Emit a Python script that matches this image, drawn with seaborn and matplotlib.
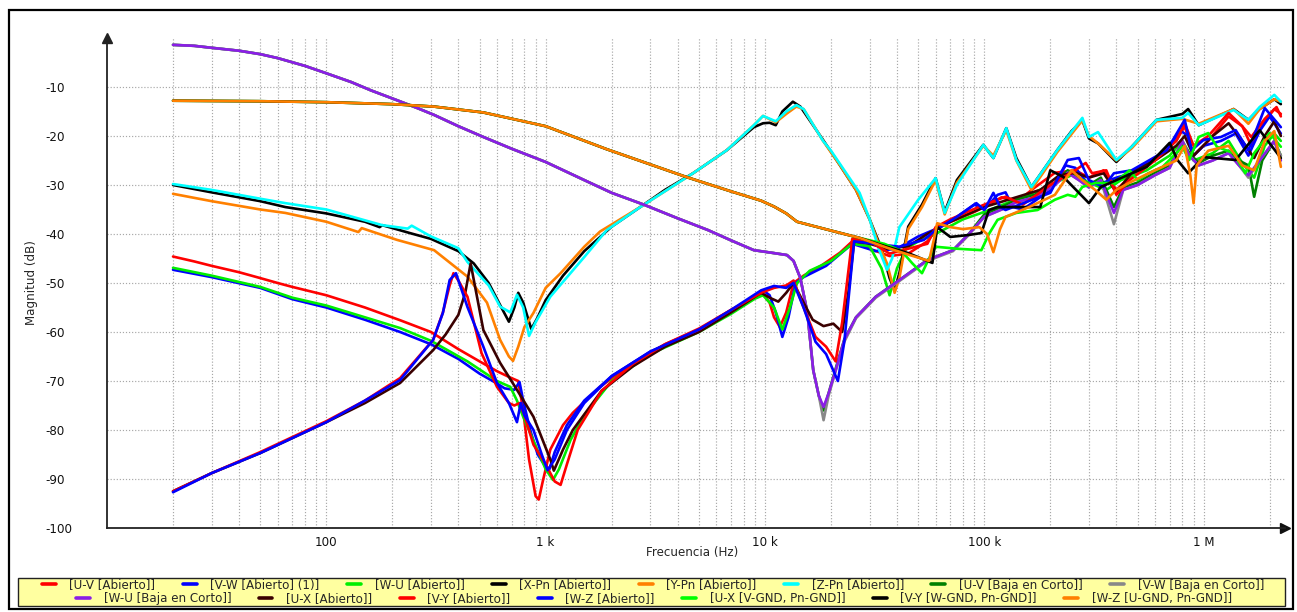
import matplotlib
matplotlib.use("Agg")
import matplotlib.pyplot as plt
from matplotlib.lines import Line2D
from matplotlib.patches import Rectangle
from matplotlib.ticker import FixedLocator, LogLocator, NullFormatter
import seaborn as sns
import pandas as pd

# ---------------------------------------------------------------- data (Hz, dB)
uv_abierto = [(20, -44.6), (25, -45.6), (30, -46.5), (40, -47.8), (50, -49), (60, -50), (70, -50.8),
              (100, -52.5), (150, -55), (217, -57.6), (300, -60), (400, -63.5), (500, -66), (600, -68),
              (690, -69.3), (750, -70), (790, -76), (840, -86), (900, -93.5), (930, -94.2), (970, -90.5),
              (1050, -84), (1200, -79), (1330, -76.5), (1770, -71.2), (2500, -66.3), (3500, -62.5),
              (5000, -59.3), (7000, -55.5), (9000, -52.8), (9800, -52.3), (10500, -54), (11000, -57),
              (11700, -59), (12500, -56), (13500, -50), (15000, -48.5), (18000, -46.5), (22000, -43.8),
              (25000, -41.5), (30000, -43), (37000, -44.5), (45000, -44), (55000, -41.5), (62000, -38.5),
              (75000, -37), (90000, -35.5), (100000, -34.5), (120000, -32.5), (140000, -33.5),
              (170000, -30.5), (210000, -27.5), (260000, -27), (300000, -28.5), (350000, -27),
              (400000, -31), (470000, -28), (600000, -24.5), (750000, -21), (820000, -18), (900000, -24),
              (1050000, -21), (1300000, -16), (1500000, -18), (1650000, -22), (1900000, -17),
              (2100000, -14.5), (2250000, -15.5)]

vw_abierto_1 = [(20, -47.3), (30, -48.8), (50, -51), (70, -53.3), (100, -55), (150, -57.5), (217, -60),
                (300, -62.5), (400, -65.5), (500, -68.5), (600, -70.5), (650, -71.5), (720, -71.8),
                (760, -70.2), (790, -74), (850, -80), (920, -85), (1000, -87.5), (1040, -88), (1100, -84.5),
                (1250, -79), (1500, -74), (2000, -69), (3000, -64), (5000, -59.5), (7000, -55.8),
                (9000, -52.5), (9800, -51.5), (10500, -52.5), (11200, -56), (12000, -61), (12800, -57),
                (13800, -50), (15000, -48.8), (19000, -46.5), (25000, -42), (32000, -43.5), (40000, -43),
                (50000, -40.5), (60000, -39), (75000, -36.5), (90000, -34), (100000, -35), (115000, -32),
                (125000, -31.5), (135000, -34.5), (150000, -35), (200000, -31), (235000, -26),
                (260000, -26.5), (300000, -30), (350000, -29.5), (400000, -28.5), (480000, -27.5),
                (650000, -23.5), (790000, -19), (850000, -20), (900000, -24), (1000000, -22),
                (1200000, -21), (1400000, -19.5), (1600000, -24), (1800000, -19), (2000000, -16),
                (2250000, -19.5)]

wu_abierto = [(20, -46.9), (30, -48.5), (50, -50.8), (70, -53), (100, -54.6), (150, -57), (217, -59.2),
              (300, -61.8), (440, -66), (600, -70), (690, -71.2), (740, -74), (790, -77.3), (890, -82.7),
              (1000, -88), (1080, -90.2), (1150, -88), (1300, -82), (1500, -77), (2000, -70),
              (3000, -64.5), (5000, -60), (7000, -56.3), (9000, -53.2), (9800, -52.5), (11000, -55),
              (12000, -59.5), (13000, -55), (14000, -50), (16000, -47.5), (20000, -45.5), (25000, -42),
              (30000, -42.5), (34000, -47), (37000, -52.5), (40000, -47), (44000, -43), (50000, -41.5),
              (60000, -40), (80000, -37), (100000, -35.5), (130000, -33.5), (160000, -32),
              (200000, -30), (250000, -28), (300000, -29.5), (360000, -31), (420000, -29),
              (550000, -27), (700000, -24), (800000, -21), (900000, -25), (1100000, -23.5),
              (1300000, -21), (1500000, -25.5), (1700000, -28.5), (1900000, -22), (2100000, -19.5),
              (2250000, -21)]

xpn_abierto = [(20, -30), (30, -31.5), (50, -33.3), (65, -34.5), (100, -35.8), (150, -37.5), (175, -38.6),
               (180, -38.2), (240, -39.8), (300, -41), (400, -43.5), (470, -46), (550, -50), (620, -54.5),
               (680, -57.9), (720, -55), (750, -52), (790, -54), (860, -59.4), (920, -57), (1000, -53.5),
               (1200, -48.5), (1500, -43.5), (2000, -38.5), (2700, -34.5), (3500, -31), (4700, -27.6),
               (6700, -22.9), (8900, -18.2), (9800, -17.4), (10500, -17.3), (11200, -17.8), (12000, -15),
               (13400, -13), (14500, -14), (18400, -20.8), (22000, -26), (26000, -31), (30000, -37),
               (34000, -43), (37000, -49), (39000, -51.5), (41000, -48), (45000, -38.5), (52000, -34),
               (60000, -28.6), (66000, -35.5), (75000, -29), (99000, -21.8), (110000, -24.5),
               (126000, -18.4), (140000, -24.5), (164000, -30.4), (215000, -22.9), (250000, -19),
               (280000, -16.8), (300000, -20.5), (330000, -21.5), (400000, -25.3), (470000, -22.2),
               (610000, -16.7), (800000, -15.5), (850000, -14.5), (950000, -17.8), (1370000, -14.5),
               (1600000, -16.7), (1800000, -14.5), (2100000, -12.5), (2250000, -13.5)]

ypn_abierto = [(20, -31.8), (30, -33.3), (50, -35), (65, -35.7), (100, -37.5), (140, -39.6), (145, -38.8),
               (210, -41.2), (310, -43.3), (440, -48.7), (540, -54), (620, -61.6), (680, -65), (710, -65.9),
               (750, -63), (800, -59), (880, -56.1), (1000, -51), (1170, -48), (1500, -42.6), (1770, -39.5),
               (2700, -34.5), (4700, -27.6), (6700, -22.9), (8900, -17.8), (9800, -15.9), (11200, -17.2),
               (12500, -15.5), (13900, -14), (15000, -14.5), (18400, -21), (22000, -26), (26000, -31),
               (30000, -37), (33000, -42), (36000, -46), (39000, -52), (41000, -49), (45000, -39),
               (52000, -34.5), (60000, -29), (66000, -36), (75000, -29.5), (99000, -22), (110000, -24),
               (126000, -18.8), (140000, -25), (164000, -31), (215000, -23.3), (280000, -16.8),
               (300000, -20), (330000, -21.5), (400000, -25), (470000, -22.5), (610000, -17),
               (800000, -16.5), (950000, -17.5), (1370000, -14.5), (1600000, -17.5), (1800000, -14.5),
               (2100000, -12.5), (2250000, -13)]

zpn_abierto = [(20, -29.8), (30, -31), (50, -32.8), (65, -33.7), (100, -35), (180, -38.2), (235, -38.9),
               (245, -38.3), (300, -40.5), (400, -42.9), (440, -45.7), (550, -50.5), (620, -54.8),
               (690, -56), (740, -52.4), (790, -55), (840, -60.8), (900, -58), (1050, -52.8), (1500, -44.7),
               (1900, -39.2), (2700, -34.5), (4700, -27.6), (6700, -22.9), (8900, -17.8), (9800, -15.9),
               (11200, -17), (12500, -15), (13900, -13.7), (15000, -14.5), (18400, -21), (20000, -23),
               (27000, -31.6), (30000, -37), (33000, -43), (36000, -47.3), (38000, -45), (41000, -38.6),
               (50000, -33), (60000, -28.6), (66000, -35.7), (75000, -30), (99000, -21.8),
               (110000, -24.5), (126000, -18.4), (140000, -24.9), (164000, -30.4), (215000, -22.9),
               (280000, -16.3), (300000, -20.2), (330000, -19.2), (400000, -24.9), (470000, -22.2),
               (610000, -16.7), (800000, -16.3), (850000, -15.3), (950000, -17.8), (1370000, -14.7),
               (1600000, -16.7), (1800000, -14.1), (2100000, -11.6), (2250000, -13)]

# low-frequency part shared by the three short-circuited measurements
baja_lf = [(20, -1.4), (25, -1.6), (30, -2), (40, -2.6), (50, -3.3), (60, -4.1), (80, -5.7), (100, -7.2),
           (130, -9), (160, -10.7), (210, -12.7), (260, -14.3), (310, -15.7), (400, -18), (520, -20.2),
           (700, -22.6), (1000, -25.3), (1500, -29), (2000, -31.6), (2800, -34), (4000, -36.8),
           (5500, -39.2), (7000, -41.3), (8900, -43.3), (11000, -43.9), (12600, -44.3), (13500, -45.5),
           (14500, -49), (15600, -56), (16600, -67.8), (17600, -73)]

uv_baja = baja_lf + [(18500, -76), (19500, -72.5), (21000, -67.5), (23000, -61.5), (26000, -57),
                     (32000, -52.8), (41000, -49.4), (55000, -45.3), (72000, -43.3), (85000, -40),
                     (100000, -36), (120000, -34.5), (140000, -33), (170000, -32), (210000, -29.5),
                     (240000, -27), (270000, -28.5), (300000, -30), (340000, -28.5), (390000, -34.5),
                     (430000, -30.5), (500000, -29.5), (600000, -27.5), (700000, -26), (800000, -21.5),
                     (860000, -23.5), (950000, -25.5), (1100000, -24), (1300000, -23), (1450000, -25),
                     (1600000, -26), (1700000, -32.4), (1850000, -25), (2100000, -21), (2250000, -24)]

vw_baja = baja_lf + [(18500, -78), (19500, -73), (21000, -68), (23000, -62), (26000, -57.2),
                     (32000, -53), (41000, -49.6), (55000, -45.5), (72000, -43.5), (85000, -40.2),
                     (100000, -36.5), (120000, -35), (140000, -33.5), (170000, -32.5), (210000, -30),
                     (240000, -27.5), (270000, -29), (300000, -30.5), (340000, -29), (390000, -38),
                     (430000, -31), (500000, -30), (600000, -28), (700000, -26.5), (800000, -21),
                     (860000, -24), (950000, -26), (1100000, -25), (1300000, -23.5), (1450000, -26),
                     (1600000, -28.5), (1800000, -25), (2100000, -21), (2250000, -24)]

wu_baja = baja_lf + [(18500, -75.3), (19500, -72.5), (21000, -67.8), (23000, -61.6), (26000, -57),
                     (32000, -52.8), (41000, -49.4), (55000, -45.3), (72000, -43.3), (85000, -40),
                     (100000, -36.5), (120000, -35), (140000, -33.5), (170000, -32.5), (210000, -30),
                     (240000, -27.5), (270000, -29), (300000, -30.5), (340000, -29), (390000, -35.7),
                     (430000, -31), (500000, -30), (600000, -28), (700000, -26.5), (800000, -21),
                     (860000, -24), (950000, -26), (1100000, -25), (1300000, -23.5), (1450000, -26),
                     (1600000, -28), (1800000, -25), (2100000, -21), (2250000, -25)]

ux_abierto = [(20, -92.5), (30, -88.8), (50, -84.7), (100, -78.4), (150, -74.5), (217, -70.4),
              (307, -63.7), (350, -60.5), (400, -56.5), (430, -52), (455, -46), (520, -59.6), (620, -66.3),
              (740, -71.8), (880, -77.3), (1050, -86), (1090, -88.3), (1200, -84), (1330, -80),
              (1800, -72), (2500, -67), (3500, -63), (5000, -60), (7000, -56), (9600, -52), (10500, -53),
              (11500, -53.8), (12500, -52), (13500, -50), (15000, -54), (16500, -57.5), (18500, -58.8),
              (20500, -58.3), (22500, -60), (24000, -52), (25500, -41.5), (30000, -42), (36000, -43),
              (45000, -42.5), (55000, -40), (70000, -37.5), (100000, -34.5), (140000, -32.5),
              (180000, -31), (220000, -28), (260000, -27.5), (300000, -28.5), (350000, -27.6),
              (400000, -31.5), (480000, -27), (600000, -25), (750000, -22), (820000, -20),
              (900000, -24), (1100000, -20), (1300000, -17.4), (1500000, -21), (1700000, -24.5),
              (1900000, -20), (2100000, -17), (2250000, -20)]

vy_abierto = [(20, -92.5), (30, -88.8), (50, -84.5), (100, -78.2), (150, -74), (217, -69.4), (307, -61.6),
              (340, -56), (365, -50.5), (380, -48), (400, -49.5), (440, -52.8), (510, -64.3), (600, -71.2),
              (680, -74.5), (720, -75), (760, -74.5), (800, -77), (880, -83), (1000, -87), (1100, -90.5),
              (1170, -91.2), (1250, -87), (1400, -80), (1800, -72), (2500, -66.5), (3500, -62.5),
              (5000, -59.5), (7000, -55.5), (9600, -52), (11000, -51), (12500, -50.5), (13500, -49.5),
              (15000, -55), (17000, -61), (19000, -63), (21000, -66), (22500, -58), (25000, -41),
              (30000, -41.5), (37000, -44), (45000, -43), (55000, -42), (60000, -38.6), (70000, -37),
              (100000, -34), (125000, -32.4), (150000, -34), (200000, -30), (260000, -27),
              (290000, -25.5), (310000, -27.6), (360000, -27), (400000, -32), (460000, -29),
              (600000, -25), (750000, -21), (820000, -17.4), (900000, -22), (1050000, -20),
              (1300000, -15.3), (1500000, -18), (1650000, -20.2), (1900000, -16.5), (2150000, -14.1),
              (2250000, -16)]

wz_abierto = [(20, -92.7), (30, -88.8), (50, -84.7), (100, -78.4), (150, -74), (217, -69.8), (307, -61.6),
              (340, -56.1), (365, -49.4), (390, -48), (440, -54.9), (520, -63), (600, -70.4), (680, -74.5),
              (740, -78.4), (770, -74.5), (800, -77), (880, -80), (960, -85), (1020, -88.2), (1100, -86),
              (1250, -80), (1500, -74.5), (2000, -69), (3000, -64), (5000, -59.5), (7000, -55.5),
              (9600, -51.5), (11000, -50.6), (12500, -51), (13500, -50), (15000, -55), (17000, -62),
              (19000, -64.5), (21500, -70), (23000, -62), (25500, -41.5), (41000, -42.6), (53000, -41.2),
              (60000, -39.2), (75000, -36.5), (92000, -33.7), (100000, -35.1), (110000, -31.6),
              (118000, -34.5), (125000, -35.1), (200000, -31.6), (240000, -24.9), (270000, -24.5),
              (300000, -29), (350000, -30.4), (390000, -27.6), (470000, -27), (680000, -22.9),
              (820000, -16.7), (880000, -22.9), (1000000, -20.8), (1200000, -20.2), (1400000, -18.8),
              (1600000, -22.9), (1900000, -14.3), (2250000, -18.2)]

# low-frequency part shared by the three grounded measurements
gnd_lf = [(20, -12.8), (50, -12.9), (100, -13.1), (200, -13.5), (310, -14), (520, -15.2), (1000, -18),
          (1900, -22.7), (4400, -28.4), (7000, -31.3), (9600, -33.2), (11000, -34.4), (12500, -35.8),
          (14000, -37.5), (20000, -39.3), (27000, -40.8)]

ux_gnd = gnd_lf + [(35000, -42), (42000, -43.5), (47000, -46), (52000, -48), (56000, -45), (60000, -42.6),
                   (75000, -43), (97000, -43.3), (105000, -40), (115000, -37.1), (140000, -35.7),
                   (175000, -35.1), (210000, -33), (240000, -32), (260000, -32.4), (280000, -30.4),
                   (320000, -29.6), (390000, -29.6), (460000, -27), (500000, -29), (560000, -27.6),
                   (650000, -26.3), (750000, -23.5), (800000, -22.2), (860000, -24.9), (950000, -20.2),
                   (1050000, -19.4), (1150000, -22.2), (1370000, -23.5), (1550000, -27.6),
                   (1700000, -23.5), (2000000, -19.4), (2250000, -22.2)]

vy_gnd = gnd_lf + [(36000, -42.6), (45000, -43.9), (55000, -45.5), (58000, -45.9), (61000, -38.6),
                   (70000, -40.6), (85000, -40.2), (97000, -39.8), (105000, -35.1), (115000, -34.5),
                   (140000, -34.5), (180000, -34.5), (200000, -27), (230000, -28.4), (300000, -33.7),
                   (340000, -30.4), (400000, -29), (550000, -26.3), (700000, -21.4), (760000, -24.9),
                   (850000, -27.6), (1000000, -24.3), (1400000, -24.9), (1800000, -18.8),
                   (2250000, -24.5)]

wz_gnd = gnd_lf + [(36000, -42.8), (45000, -44.2), (56000, -45.5), (59000, -41), (61000, -37.8),
                   (70000, -38.6), (80000, -39), (95000, -38.6), (103000, -40), (110000, -43.7),
                   (118000, -39), (125000, -36.5), (160000, -34.5), (210000, -32), (250000, -27),
                   (280000, -29), (320000, -31), (360000, -33), (400000, -31), (460000, -29.5),
                   (600000, -27), (750000, -25), (820000, -22), (870000, -28), (900000, -33.7),
                   (930000, -26), (1050000, -23), (1300000, -22), (1500000, -26), (1700000, -27),
                   (1900000, -21), (2100000, -19), (2250000, -26.3)]

series_names = ["[U-V [Abierto]]", "[V-W [Abierto] (1)]", "[W-U [Abierto]]", "[X-Pn [Abierto]]",
                "[Y-Pn [Abierto]]", "[Z-Pn [Abierto]]", "[U-V [Baja en Corto]]", "[V-W [Baja en Corto]]",
                "[W-U [Baja en Corto]]", "[U-X [Abierto]]", "[V-Y [Abierto]]", "[W-Z [Abierto]]",
                "[U-X [V-GND, Pn-GND]]", "[V-Y [W-GND, Pn-GND]]", "[W-Z [U-GND, Pn-GND]]"]
series_data = [uv_abierto, vw_abierto_1, wu_abierto, xpn_abierto, ypn_abierto, zpn_abierto,
               uv_baja, vw_baja, wu_baja, ux_abierto, vy_abierto, wz_abierto, ux_gnd, vy_gnd, wz_gnd]
series_colors = ["#ff0000", "#0000ff", "#00ee00", "#000000", "#ff8000", "#00ffff", "#008000",
                 "#888888", "#8a1ee6", "#3a0000", "#ff0000", "#0000ff", "#00ff00", "#000000", "#ff8000"]

x_tick_values = [100, 1e3, 1e4, 1e5, 1e6]
x_tick_labels = ["100", "1 k", "10 k", "100 k", "1 M"]
y_tick_values = [-10, -20, -30, -40, -50, -60, -70, -80, -90, -100]

# ---------------------------------------------------------------- figure
sns.set_style("white")
plt.rcParams["font.family"] = ["DejaVu Sans"]
FS = 8.6

frames = []
for name, pts in zip(series_names, series_data):
    d = pd.DataFrame(pts, columns=["freq", "mag"])
    d["serie"] = name
    frames.append(d)
df = pd.concat(frames, ignore_index=True)

fig = plt.figure(figsize=(12.97, 6.12), dpi=100)
W, H = 1297, 612
ax = fig.add_axes([107 / W, 1 - 528 / H, (1285 - 107) / W, (528 - 38) / H])

palette = dict(zip(series_names, series_colors))
sns.lineplot(data=df, x="freq", y="mag", hue="serie", hue_order=series_names, palette=palette,
             sort=False, estimator=None, legend=False, linewidth=1.9, ax=ax)

ax.set_xscale("log")
ax.set_xlim(10, 2.35e6)
ax.set_ylim(-100, 0)

ax.xaxis.set_major_locator(FixedLocator(x_tick_values))
ax.set_xticklabels(x_tick_labels)
ax.xaxis.set_minor_locator(LogLocator(base=10, subs=range(2, 10), numticks=20))
ax.xaxis.set_minor_formatter(NullFormatter())
ax.set_yticks(y_tick_values)
ax.set_yticklabels([str(v) for v in y_tick_values])

grid_kw = dict(color="#a8a8a8", linestyle=(0, (1, 1.6)), linewidth=0.85)
ax.grid(True, which="both", axis="x", **grid_kw)
ax.grid(True, which="major", axis="y", **grid_kw)
ax.set_axisbelow(True)

ax.tick_params(axis="both", which="both", length=0, labelsize=FS, colors="#111111")
ax.tick_params(axis="x", pad=6)
ax.tick_params(axis="y", pad=44.6)
for lab in ax.get_yticklabels():
    lab.set_horizontalalignment("left")

for s in ("top", "right"):
    ax.spines[s].set_visible(False)
for s in ("left", "bottom"):
    ax.spines[s].set_color("#222222")
    ax.spines[s].set_linewidth(1.3)

# arrow heads at the ends of the axes
ax.plot([0], [1], marker="^", color="#222222", markersize=7, transform=ax.transAxes, clip_on=False)
ax.plot([1], [0], marker=">", color="#111111", markersize=7, transform=ax.transAxes, clip_on=False)

ax.set_xlabel("Frecuencia (Hz)", fontsize=FS)
ax.set_ylabel("Magnitud (dB)", fontsize=FS)
ax.xaxis.set_label_coords((692 - 107) / (1285 - 107), -(546 - 528) / (528 - 38))
ax.yaxis.set_label_coords(-(107 - 38) / (1285 - 107), 0.5)

# outer frame and legend panel
fig.patches.append(Rectangle((9 / W, 1 - 609 / H), (1293 - 9) / W, (609 - 10) / H,
                             transform=fig.transFigure, fill=False, edgecolor="black",
                             linewidth=1.6, zorder=0))
fig.patches.append(Rectangle((18 / W, 1 - 606 / H), (1285 - 18) / W, (606 - 578) / H,
                             transform=fig.transFigure, facecolor="#ffffa0", edgecolor="#222222",
                             linewidth=1.0, zorder=1))

handles = [Line2D([], [], color=c, linewidth=2.6) for c in series_colors]
row_kw = dict(frameon=False, fontsize=FS, handlelength=1.15, handletextpad=1.15,
              columnspacing=2.3, borderpad=0, borderaxespad=0, loc="center")
leg1 = fig.legend(handles[:8], series_names[:8], ncol=8, bbox_to_anchor=(653 / W, 1 - 585 / H), **row_kw)
leg2 = fig.legend(handles[8:], series_names[8:], ncol=7, bbox_to_anchor=(654 / W, 1 - 598.5 / H), **row_kw)
for lg in (leg1, leg2):
    lg.set_zorder(3)

fig.savefig("out.png", dpi=100)
